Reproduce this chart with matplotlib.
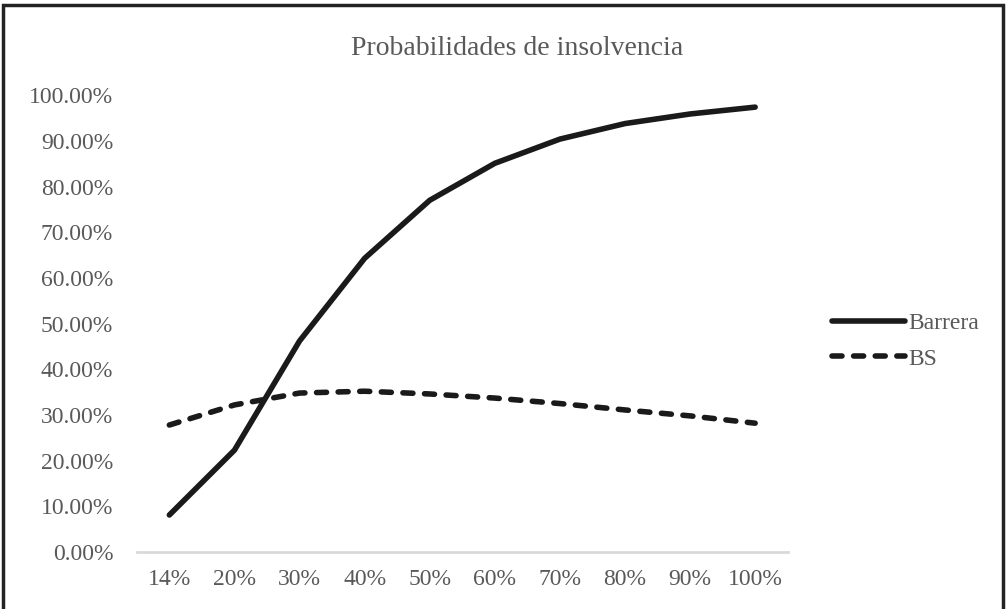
import matplotlib
matplotlib.use('Agg')
import matplotlib.pyplot as plt
from matplotlib.patches import Rectangle
from matplotlib.ticker import FuncFormatter

# data
categories = ['14%', '20%', '30%', '40%', '50%', '60%', '70%', '80%', '90%', '100%']
barrera = [0.081, 0.223, 0.462, 0.643, 0.770, 0.851, 0.904, 0.938, 0.959, 0.974]
bs = [0.278, 0.322, 0.348, 0.352, 0.346, 0.337, 0.325, 0.311, 0.298, 0.282]

GRAY = '#595959'
plt.rcParams['font.family'] = ['Liberation Serif', 'DejaVu Serif']

fig = plt.figure(figsize=(10.06, 6.09), dpi=100)
ax = fig.add_axes([0.136, 0.0936, 0.647, 0.750])

x = list(range(len(categories)))
ax.plot(x, barrera, color='#1a1a1a', linewidth=4, solid_capstyle='round', label='Barrera')
ax.plot(x, bs, color='#1a1a1a', linewidth=4, linestyle=(0, (1.8, 2.09)),
        dash_capstyle='round', label='BS')

ax.set_xlim(-0.5, len(categories) - 0.5)
ax.set_ylim(0, 1.0)
ax.set_yticks([i / 10 for i in range(11)])
ax.yaxis.set_major_formatter(FuncFormatter(lambda v, p: f'{v * 100:.2f}%'))
ax.set_xticks(x)
ax.set_xticklabels(categories)
ax.tick_params(axis='both', length=0, labelsize=17, colors=GRAY)
ax.tick_params(axis='x', pad=12)
ax.tick_params(axis='y', pad=17)

for side in ['top', 'right', 'left']:
    ax.spines[side].set_visible(False)
ax.spines['bottom'].set_color('#d9d9d9')
ax.spines['bottom'].set_linewidth(2)

fig.text(0.514, 0.921, 'Probabilidades de insolvencia', ha='center', va='center',
         fontsize=20, color=GRAY)

leg = ax.legend(loc='center left', bbox_to_anchor=(1.035, 0.462), frameon=False,
                fontsize=17, handlelength=3.1, handletextpad=0.15, labelspacing=0.6,
                labelcolor=GRAY)

# outer frame of the chart
fig.patches.append(Rectangle((0.003, -0.02), 0.994, 1.012, transform=fig.transFigure,
                             fill=False, edgecolor='#222222', linewidth=2.5))

fig.savefig('out.png', dpi=100)
